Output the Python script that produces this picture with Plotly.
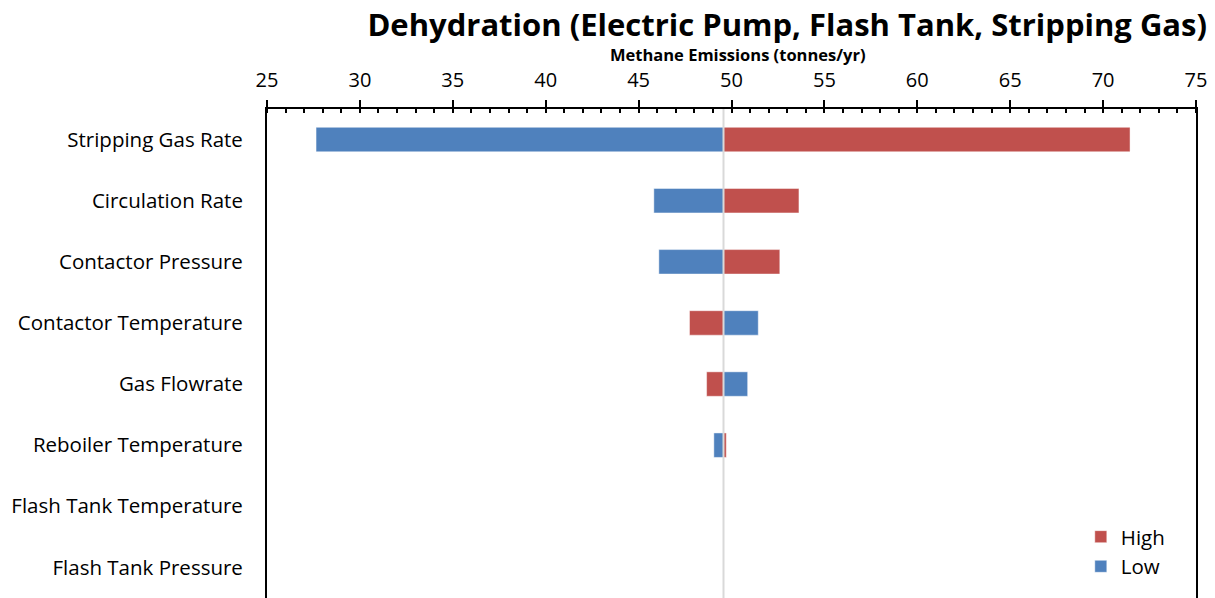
import plotly.graph_objects as go

# Tornado chart inputs: methane emissions (tonnes/yr) at low / high parameter settings
categories = [
    "Stripping Gas Rate",
    "Circulation Rate",
    "Contactor Pressure",
    "Contactor Temperature",
    "Gas Flowrate",
    "Reboiler Temperature",
    "Flash Tank Temperature",
    "Flash Tank Pressure",
]
base_value = 49.57
low_values = [27.64, 45.82, 46.09, 51.44, 50.87, 49.05, 49.57, 49.57]
high_values = [71.45, 53.63, 52.60, 47.74, 48.66, 49.72, 49.57, 49.57]

x_ticks = [25, 30, 35, 40, 45, 50, 55, 60, 65, 70, 75]

BLUE = "#4F81BD"
RED = "#C0504D"
FONT = "Open Sans"

fig = go.Figure()

fig.add_trace(go.Bar(
    name="Low",
    y=categories,
    x=[v - base_value for v in low_values],
    base=base_value,
    orientation="h",
    width=0.4,
    marker=dict(color=BLUE, line=dict(color="rgba(255,255,255,0.45)", width=1)),
))
fig.add_trace(go.Bar(
    name="High",
    y=categories,
    x=[v - base_value for v in high_values],
    base=base_value,
    orientation="h",
    width=0.4,
    marker=dict(color=RED, line=dict(color="rgba(255,255,255,0.45)", width=1)),
))

# grey reference line at the base case
fig.add_shape(
    type="line", xref="x", yref="paper",
    x0=base_value, x1=base_value, y0=0, y1=1,
    line=dict(color="#D9D9D9", width=2), layer="above",
)

fig.update_layout(
    width=1215, height=598,
    margin=dict(l=267, r=19, t=109, b=0),
    paper_bgcolor="white", plot_bgcolor="white",
    barmode="overlay",
    font=dict(family=FONT, color="black"),
    title=dict(
        text="<b>Dehydration (Electric Pump, Flash Tank, Stripping Gas)</b>",
        xref="container", x=1207 / 1215, xanchor="right",
        yref="container", y=1 - 25 / 598, yanchor="middle",
        font=dict(family=FONT, size=31, color="black"),
    ),
    xaxis=dict(
        side="top", range=[25, 75],
        tickvals=x_ticks, ticks="outside", ticklen=7, tickwidth=2, tickcolor="black",
        minor=dict(dtick=1, ticks="inside", ticklen=4, tickwidth=1.5, tickcolor="black"),
        showline=True, linecolor="black", linewidth=2,
        showgrid=False, zeroline=False,
        tickfont=dict(family=FONT, size=20, color="black"),
        ticklabelstandoff=5,
        fixedrange=True,
    ),
    xaxis2=dict(
        overlaying="x", side="top", range=[25, 75],
        tickvals=x_ticks, ticks="inside", ticklen=6, tickwidth=2, tickcolor="black",
        showticklabels=False, showline=False, showgrid=False, zeroline=False,
    ),
    yaxis=dict(
        categoryorder="array", categoryarray=categories,
        range=[7.5, -0.5],
        showline=True, linecolor="black", linewidth=2, mirror=True,
        ticks="", showgrid=False, zeroline=False,
        tickfont=dict(family=FONT, size=20.5, color="black"),
        ticklabelstandoff=18,
    ),
    legend=dict(
        traceorder="reversed",
        x=0.876, xanchor="left", y=0.166, yanchor="top",
        font=dict(family=FONT, size=20.5, color="black"),
        bgcolor="rgba(0,0,0,0)", itemwidth=30,
    ),
    annotations=[dict(
        text="<b>Methane Emissions (tonnes/yr)</b>",
        xref="paper", yref="paper",
        x=(738 - 267) / 929, y=1 + (109 - 54.5) / 489,
        xanchor="center", yanchor="middle", showarrow=False,
        font=dict(family=FONT, size=16.5, color="black"),
    )],
    showlegend=True,
)

fig.write_html("out.html")
